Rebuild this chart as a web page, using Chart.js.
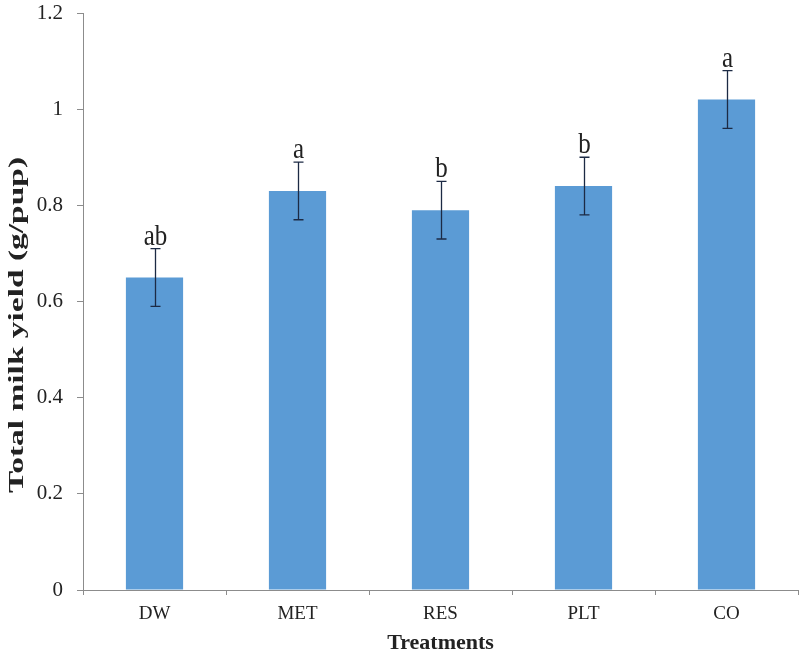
<!DOCTYPE html>
<html>
<head>
<meta charset="utf-8">
<script src="https://cdn.jsdelivr.net/npm/chart.js@4/dist/chart.umd.min.js"></script>
<style>
html,body{margin:0;padding:0;background:#fff;}
#wrap{width:800px;height:656px;position:relative;}
</style>
</head>
<body>
<div id="wrap"><canvas id="c" width="800" height="656"></canvas></div>
<script>
const categories = ["DW", "MET", "RES", "PLT", "CO"];
const milkYield = [0.65, 0.83, 0.79, 0.84, 1.02];
const errors = [0.06, 0.06, 0.06, 0.06, 0.06];
const letters = ["ab", "a", "b", "b", "a"];
const yTicks = [0, 0.2, 0.4, 0.6, 0.8, 1, 1.2];
const xTitle = "Treatments";
const yTitle = "Total milk yield (g/pup)";

const SERIF = "'Liberation Serif','Times New Roman',serif";

const extras = {
  id: 'extras',
  afterDatasetsDraw(chart) {
    const ctx = chart.ctx;
    const x = chart.scales.x, y = chart.scales.y;
    ctx.save();
    ctx.strokeStyle = '#1c2a44';
    ctx.lineWidth = 1.3;
    milkYield.forEach((v, i) => {
      const cx = Math.round(x.getPixelForValue(i)) + 0.5;
      const yt = y.getPixelForValue(v + errors[i]);
      const yb = y.getPixelForValue(v - errors[i]);
      ctx.beginPath();
      ctx.moveTo(cx, yt); ctx.lineTo(cx, yb);
      ctx.moveTo(cx - 5, yt); ctx.lineTo(cx + 5, yt);
      ctx.moveTo(cx - 5, yb); ctx.lineTo(cx + 5, yb);
      ctx.stroke();
      ctx.save();
      ctx.fillStyle = '#222';
      ctx.font = "25px " + SERIF;
      ctx.textAlign = 'center';
      ctx.textBaseline = 'alphabetic';
      ctx.translate(cx, yt - 4);
      ctx.scale(1, 1.15);
      ctx.fillText(letters[i], 0, 0);
      ctx.restore();
    });
    ctx.fillStyle = '#222';
    ctx.font = "bold 22px " + SERIF;
    ctx.textAlign = 'center';
    ctx.textBaseline = 'alphabetic';
    ctx.fillText(xTitle, (x.left + x.right) / 2, 649);
    ctx.save();
    ctx.translate(23, 325);
    ctx.rotate(-Math.PI / 2);
    ctx.scale(1.52, 1);
    ctx.fillText(yTitle, 0, 0);
    ctx.restore();
    ctx.restore();
  }
};

new Chart(document.getElementById('c'), {
  type: 'bar',
  data: {
    labels: categories,
    datasets: [{
      data: milkYield,
      backgroundColor: '#5b9bd5',
      borderWidth: 0,
      categoryPercentage: 1.0,
      barPercentage: 0.4
    }]
  },
  options: {
    responsive: false,
    animation: false,
    layout: { padding: { top: 13, right: 2, left: 0, bottom: 0 } },
    plugins: { legend: { display: false }, tooltip: { enabled: false } },
    scales: {
      x: {
        grid: { display: true, drawOnChartArea: false, drawTicks: true, tickLength: 5, color: '#8c8c8c', offset: true },
        border: { display: true, color: '#8c8c8c', width: 1 },
        ticks: { color: '#222', font: { family: SERIF, size: 19 }, padding: 8 },
        afterFit(s) { s.height = 66; s.paddingLeft = 0; s.paddingRight = 0; }
      },
      y: {
        min: 0, max: 1.2,
        afterBuildTicks(s) { s.ticks = yTicks.map(v => ({ value: v })); },
        grid: { display: true, drawOnChartArea: false, drawTicks: true, tickLength: 6, color: '#8c8c8c' },
        border: { display: true, color: '#8c8c8c', width: 1 },
        ticks: { color: '#222', font: { family: SERIF, size: 21 }, padding: 14,
                 callback: v => String(v) },
        afterFit(s) { s.width = 83; s.paddingTop = 0; s.paddingBottom = 0; }
      }
    }
  },
  plugins: [extras]
});
</script>
</body>
</html>
